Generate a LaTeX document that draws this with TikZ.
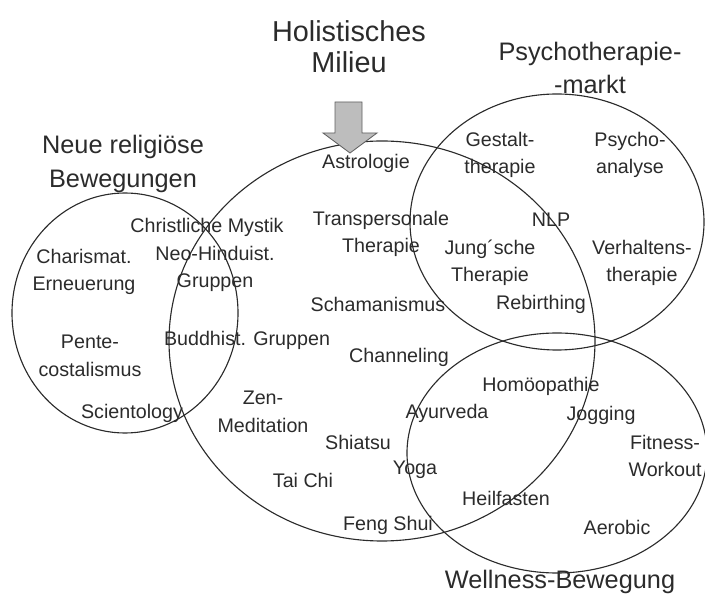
\documentclass[tikz,border=0pt]{standalone}
\usepackage{fontspec}
\setmainfont{Liberation Sans}
\usepackage{tikz}
\usetikzlibrary{positioning}
\definecolor{ink}{HTML}{2B2B2B}
\definecolor{pale}{HTML}{BDBDBD}
\tikzset{lbl/.style={font=\fontsize{14}{19.5}\selectfont,text=ink,align=center,inner sep=0pt},
  ttl/.style={font=\fontsize{18}{24}\selectfont,text=ink,align=center,inner sep=0pt},
  ring/.style={draw=ink,line width=.8pt}}

\begin{document}
\begin{tikzpicture}[x=.025cm,y=-.025cm]
\useasboundingbox (0,0) rectangle (705,596);
% the four sets
\draw[ring] (125,313) ellipse (113 and 120);
\draw[ring] (382,341) ellipse (213 and 200);
\draw[ring] (557,222) ellipse (147 and 128);
\draw[ring] (557,453) ellipse (150 and 120);
% arrow into the milieu
\draw[ink!75,fill=pale,line width=.6pt] (335,102)--(362,102)--(362,133)--(377,133)
  --(350,153)--(323,133)--(335,133)--cycle;
% titles
\node[ttl,font=\fontsize{20.5}{22}\selectfont] (holi) at (349,47) {Holistisches\\Milieu};
\node[ttl] (neurel) at (123,164) {Neue religiöse\\Bewegungen};
\node[ttl,font=\fontsize{18}{23.4}\selectfont] (psymarkt) at (590,68) {Psychotherapie-\\-markt};
\node[ttl] (wellness) at (560,582) {Wellness-Bewegung};
% entries
\node[lbl] (astro) at (366,163) {Astrologie};
\node[lbl] (christ) at (207,227) {Christliche Mystik};
\node[lbl] (neohind) at (215,269) {Neo-Hinduist.\\Gruppen};
\node[lbl] (charis) at (84,272) {Charismat.\\Erneuerung};
\node[lbl] (transp) at (381,234) {Transpersonale\\Therapie};
\node[lbl] (scham) at (378,304) {Schamanismus};
\node[lbl] (gestalt) at (500,155) {Gestalt-\\therapie};
\node[lbl] (psyana) at (630,155) {Psycho-\\analyse};
\node[lbl] (nlp) at (551,220) {NLP};
\node[lbl] (jung) at (490,263) {Jung´sche\\Therapie};
\node[lbl] (verh) at (642,263) {Verhaltens-\\therapie};
\node[lbl] (rebirth) at (541,304) {Rebirthing};
\node[lbl] (buddh) at (247,340) {Buddhist. Gruppen};
\node[lbl] (pente) at (90,356) {Pente-\\costalismus};
\node[lbl] (scient) at (132,413) {Scientology};
\node[lbl] (chann) at (399,357) {Channeling};
\node[lbl] (zen) at (263,412) {Zen-\\Meditation};
\node[lbl] (homoeo) at (541,386) {Homöopathie};
\node[lbl] (ayur) at (447,413) {Ayurveda};
\node[lbl] (jogg) at (601,415) {Jogging};
\node[lbl] (shiatsu) at (358,442) {Shiatsu};
\node[lbl] (fitness) at (665,456) {Fitness-\\Workout};
\node[lbl] (yoga) at (415,470) {Yoga};
\node[lbl] (taichi) at (303,480) {Tai Chi};
\node[lbl] (heilf) at (506,498) {Heilfasten};
\node[lbl] (fengshui) at (388,525) {Feng Shui};
\node[lbl] (aerobic) at (617,527) {Aerobic};
\end{tikzpicture}
\end{document}
